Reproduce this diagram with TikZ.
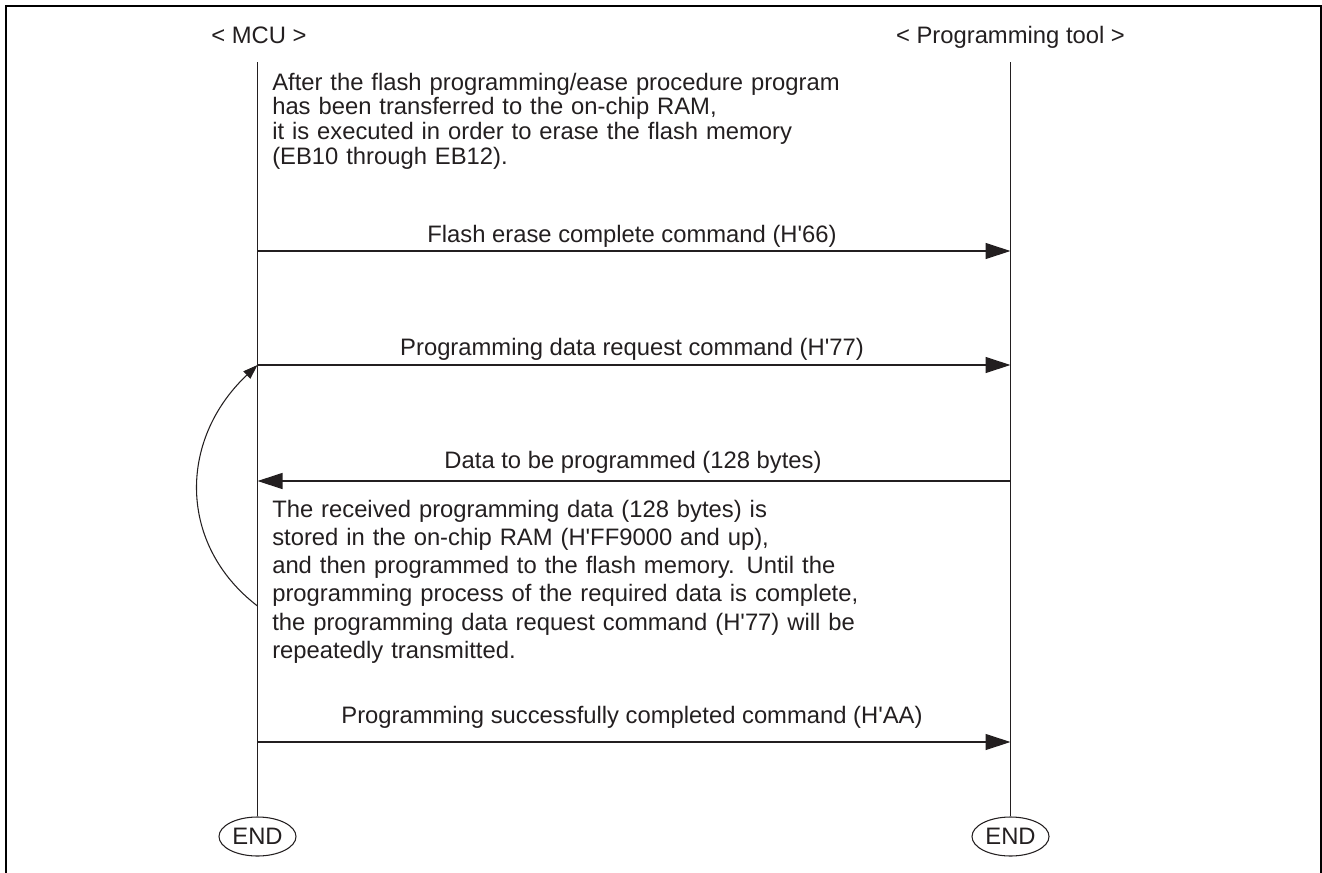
\documentclass[tikz,border=0pt]{standalone}
\usepackage{fontspec}
\setmainfont{Liberation Sans}
\usetikzlibrary{arrows.meta,shapes.geometric}
\definecolor{ink}{HTML}{231F20}
\newcommand\bigfont{\fontsize{17.85}{18.4}\selectfont}
\newcommand\q{\textquotesingle}
\tikzset{
  txt/.style={font=\bigfont, text=ink, inner sep=0pt},
  lifeline/.style={draw=ink, line width=0.9pt},
  msg/.style={draw=ink, line width=0.9pt, -{Triangle[length=18.75pt,width=12pt]}},
  loopback/.style={draw=ink, line width=0.8pt, -{Triangle[length=11pt,width=7.5pt]}},
  endbox/.style={ellipse, draw=ink, line width=0.8pt, minimum width=57.75pt, minimum height=29.25pt, inner sep=0pt, font=\bigfont, text=ink},
  frame/.style={draw=black, line width=1.5pt},
  lbl/.style={txt, anchor=base},
  block/.style={txt, anchor=north west, align=left, text width=540pt,
    execute at begin node={\bigfont\baselineskip=#1\relax}},
  block/.default=18.5pt
}
\begin{document}
\begin{tikzpicture}[x=0.75pt, y=-0.75pt]
\useasboundingbox (0,0) rectangle (1322,872);
\begin{scope}
\clip (0,0) rectangle (1322,872);
\draw[frame] (5.5,5.5) rectangle (1320.5,900);
\end{scope}

% headers
\node[lbl] (mcuhdr) at (259,43) {< MCU >};
\node[lbl] (toolhdr) at (1010.5,43) {< Programming tool >};

% lifeline tops
\coordinate (mcutop) at (257.5,62);
\coordinate (tooltop) at (1010.5,62);

% END nodes
\node[endbox] (mcuend) at (257.5,836.5) {END};
\node[endbox] (toolend) at (1010.5,836.5) {END};

\draw[lifeline] (mcutop) -- (mcuend.north);
\draw[lifeline] (tooltop) -- (toolend.north);

% message points
\coordinate (m1) at (257.5,251);  \coordinate (t1) at (1010.5,251);
\coordinate (m2) at (257.5,365);  \coordinate (t2) at (1010.5,365);
\coordinate (m3) at (257.5,481);  \coordinate (t3) at (1010.5,481);
\coordinate (m4) at (257.5,742);  \coordinate (t4) at (1010.5,742);
\coordinate (loopstart) at (257.5,606);

% text block 1
\node[block=18.5pt] (note1) at (272,72.6) {After the flash programming/ease procedure program\\
has been transferred to the on-chip RAM,\\
it is executed in order to erase the flash memory\\
(EB10 through EB12).};

% messages
\draw[msg] (m1) -- (t1);
\node[lbl] (lab1) at (632,242) {Flash erase complete command (H\q66)};

\draw[msg] (m2) -- (t2);
\node[lbl] (lab2) at (632,355) {Programming data request command (H\q77)};

\draw[msg] (t3) -- (m3);
\node[lbl] (lab3) at (633,468) {Data to be programmed (128 bytes)};

% text block 2
\node[block=21.2pt] (note2) at (272,499.6) {The received programming data (128 bytes) is\\
stored in the on-chip RAM (H\q FF9000 and up),\\
and then programmed to the flash memory. Until the\\
programming process of the required data is complete,\\
the programming data request command (H\q77) will be\\
repeatedly transmitted.};

\draw[msg] (m4) -- (t4);
\node[lbl] (lab4) at (632,723) {Programming successfully completed command (H\q AA)};

% loop-back arrow
\draw[loopback] (loopstart) .. controls (178,545) and (178,440) .. (m2);
\end{tikzpicture}
\end{document}
